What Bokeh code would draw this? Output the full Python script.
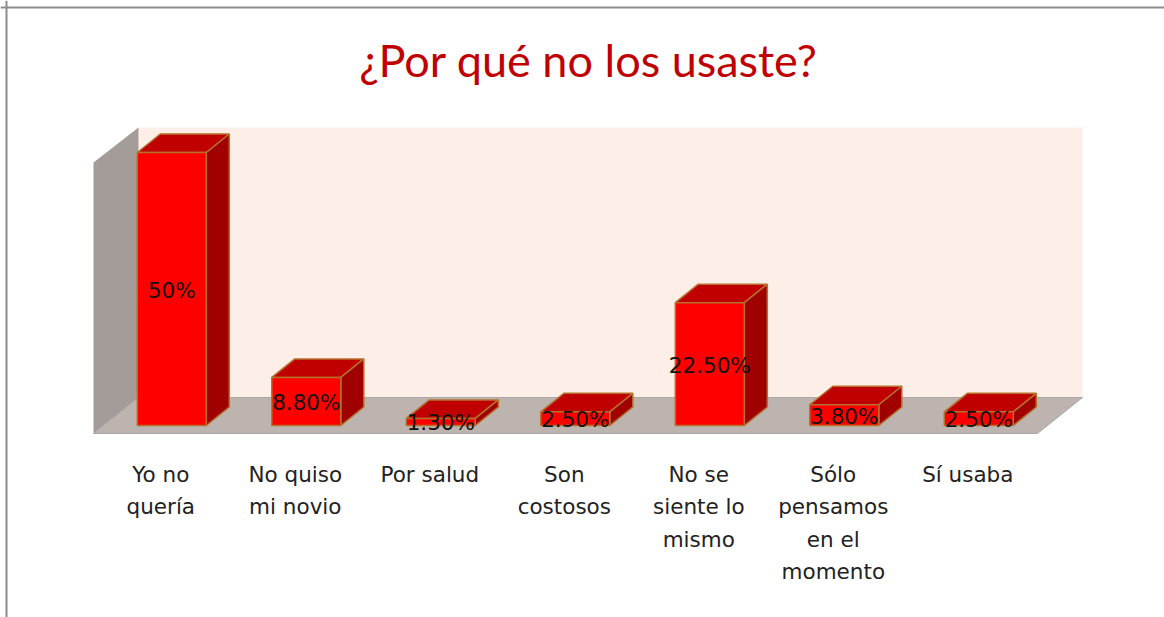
from bokeh.plotting import figure
from bokeh.models import Span
from bokeh.core.properties import value
from bokeh.embed import file_html
from bokeh.resources import INLINE

# Data
title_text = "¿Por qué no los usaste?"
categories = ["Yo no\nquería", "No quiso\nmi novio", "Por salud", "Son\ncostosos",
              "No se\nsiente lo\nmismo", "Sólo\npensamos\nen el\nmomento", "Sí usaba"]
values = [50, 8.8, 1.3, 2.5, 22.5, 3.8, 2.5]
value_labels = ["50%", "8.80%", "1.30%", "2.50%", "22.50%", "3.80%", "2.50%"]

# Geometry of the fake 3D scene, in data units (category index, percent)
W, H = 1164, 617
PX_X, PX_Y = 134.5, 5.46
X0_PX, Y0_PX = 171.3, 425
half = 34.5 / PX_X
dx, dy = 23 / PX_X, 18.5 / PX_Y

wall_left_front, wall_left_back = (93 - X0_PX) / PX_X, (138 - X0_PX) / PX_X
floor_right_front, floor_right_back = (1037 - X0_PX) / PX_X, (1082 - X0_PX) / PX_X
floor_front, floor_back = -8 / PX_Y, 28 / PX_Y
wall_top_front, wall_top_back = (Y0_PX - 162) / PX_Y, (Y0_PX - 127) / PX_Y

p = figure(width=W, height=H, output_backend="svg", toolbar_location=None,
           x_range=(-X0_PX / PX_X, (W - X0_PX) / PX_X),
           y_range=((Y0_PX - H) / PX_Y, Y0_PX / PX_Y),
           min_border=0, outline_line_color=None, background_fill_color="white",
           border_fill_color="white")
p.styles = {"position": "absolute", "left": "0px", "top": "0px"}
p.axis.visible = False
p.grid.visible = False

# Page frame
p.add_layout(Span(location=6, location_units="screen", dimension="height",
                  line_color="#8c8c8c", line_width=2))
p.add_layout(Span(location=H - 7, location_units="screen", dimension="width",
                  line_color="#8c8c8c", line_width=2))

# Walls and floor
p.patch([wall_left_back, floor_right_back, floor_right_back, wall_left_back],
        [floor_back, floor_back, wall_top_back, wall_top_back], color="#FDEFE8", line_color=None)
p.patch([wall_left_front, wall_left_back, wall_left_back, wall_left_front],
        [floor_front, floor_back, wall_top_back, wall_top_front], color="#A49C98", line_color=None)
p.patch([wall_left_front, wall_left_back, floor_right_back, floor_right_front],
        [floor_front, floor_back, floor_back, floor_front], color="#BDB3AF", line_color="#A8A8A8", line_width=1)

# Bars
xs = list(range(len(values)))
edge = "#B5702A"
top_x = [[x - half, x + half, x + half + dx, x - half + dx] for x in xs]
top_y = [[v, v, v + dy, v + dy] for v in values]
side_x = [[x + half, x + half + dx, x + half + dx, x + half] for x in xs]
side_y = [[0, dy, v + dy, v] for v in values]
p.patches(top_x, top_y, fill_color="#C00000", line_color=edge, line_width=1.5)
p.patches(side_x, side_y, fill_color="#A00000", line_color=edge, line_width=1.5)
p.vbar(x=xs, top=values, bottom=0, width=2 * half, fill_color="#FF0000", line_color=edge, line_width=1.5)

# Data labels
p.text(x=xs, y=[v / 2 for v in values], text=value_labels, text_align="center", text_baseline="middle",
       text_font=value("DejaVu Sans"), text_font_size="21.5px", text_color="#111111", y_offset=1)

# Category labels
p.text(x=xs, y=[(Y0_PX - 461) / PX_Y] * len(xs), text=categories, x_offset=-11,
       text_align="center", text_baseline="top", text_line_height=1.3,
       text_font=value("DejaVu Sans"), text_font_size="21.5px", text_color="#222222")

# Title
p.text(x=[(588 - X0_PX) / PX_X], y=[(Y0_PX - 59) / PX_Y], text=[title_text], text_align="center",
       text_baseline="middle", text_font=value("Lato"), text_font_size="45px", text_color="#C00000")

open("out.html", "w").write(file_html(p, INLINE))
